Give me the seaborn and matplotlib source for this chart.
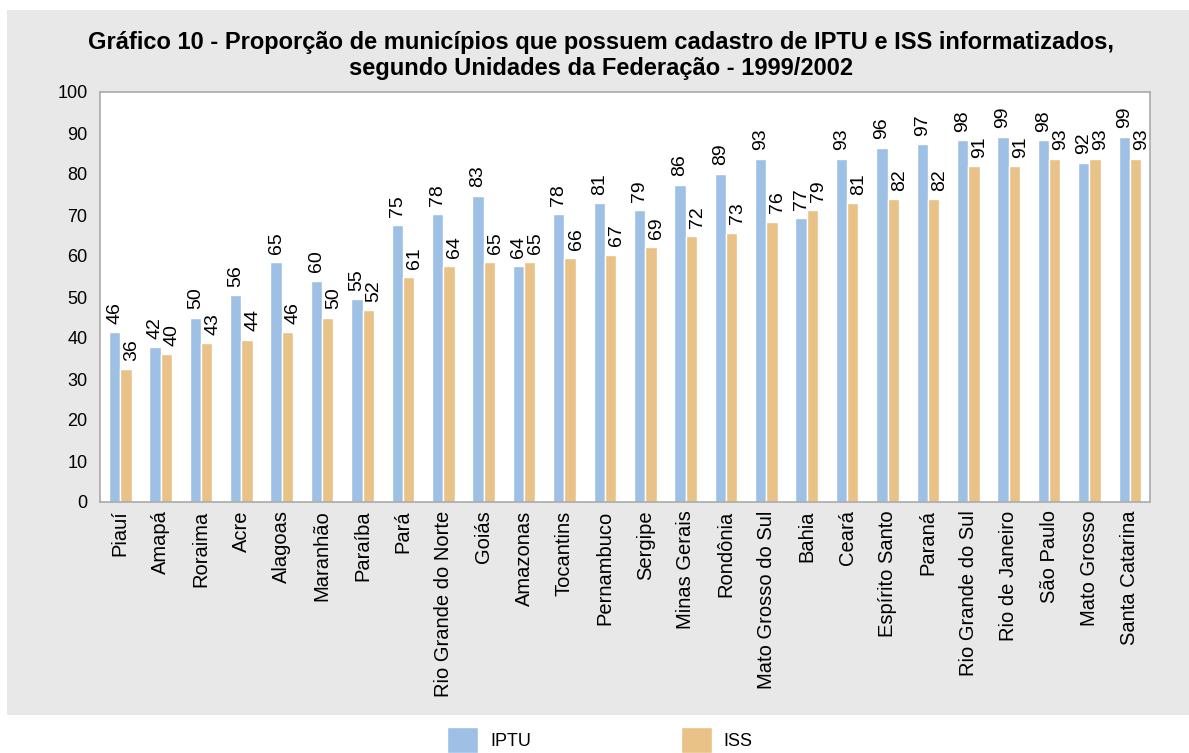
import numpy as np
import pandas as pd
import matplotlib
matplotlib.use("Agg")
import matplotlib.pyplot as plt
from matplotlib.patches import Rectangle
import seaborn as sns

estados = ["Piauí", "Amapá", "Roraima", "Acre", "Alagoas", "Maranhão", "Paraíba",
           "Pará", "Rio Grande do Norte", "Goiás", "Amazonas", "Tocantins",
           "Pernambuco", "Sergipe", "Minas Gerais", "Rondônia", "Mato Grosso do Sul",
           "Bahia", "Ceará", "Espírito Santo", "Paraná", "Rio Grande do Sul",
           "Rio de Janeiro", "São Paulo", "Mato Grosso", "Santa Catarina"]
iptu = [46, 42, 50, 56, 65, 60, 55, 75, 78, 83, 64, 78, 81, 79, 86, 89, 93,
        77, 93, 96, 97, 98, 99, 98, 92, 99]
iss = [36, 40, 43, 44, 46, 50, 52, 61, 64, 65, 65, 66, 67, 69, 72, 73, 76,
       79, 81, 82, 82, 91, 91, 93, 93, 93]
series = ["IPTU", "ISS"]
yticks = list(range(0, 101, 10))
title = ("Gráfico 10 - Proporção de municípios que possuem cadastro de IPTU e ISS informatizados,\n"
         "segundo Unidades da Federação - 1999/2002")

# the reference's value axis is drawn compressed (tick "100" sits at value ~111)
AXIS_FACTOR = 0.9

df = pd.DataFrame({
    "estado": estados * 2,
    "serie": [series[0]] * len(estados) + [series[1]] * len(estados),
    "valor": iptu + iss,
})

sns.set_style("white")
plt.rcParams["font.family"] = ["Liberation Sans", "DejaVu Sans"]
plt.rcParams["text.color"] = "black"
plt.rcParams["xtick.color"] = "black"
plt.rcParams["ytick.color"] = "black"

BLUE = "#9EC0E5"
ORANGE = "#E9C287"
SPINE = "#AAAAAA"

fig = plt.figure(figsize=(11.89, 7.53), dpi=100, facecolor="white")
W, H = 1189, 753
fig.patches.append(Rectangle((7 / W, 1 - 715 / H), 1 - 7 / W, (715 - 10) / H,
                             transform=fig.transFigure, facecolor="#E8E8E8",
                             edgecolor="none", zorder=-10))

ax = fig.add_axes([100 / W, 1 - 502 / H, (1150 - 100) / W, (502 - 92) / H])
ax.set_facecolor("white")
sns.barplot(data=df, x="estado", y="valor", hue="serie", order=estados,
            hue_order=series, palette=[BLUE, ORANGE], width=0.56,
            saturation=1, ax=ax, legend=True)

label_dx = [0, 4.3]  # ISS labels sit slightly right of their bars in the reference
for cont, vals, dx in zip(ax.containers, [iptu, iss], label_dx):
    anns = ax.bar_label(cont, labels=[str(v) for v in vals], rotation=90, padding=6,
                        fontsize=14, color="black")
    for a in anns:
        a.xyann = (dx, 6)

ax.set_ylim(0, 100 / AXIS_FACTOR)
ax.set_yticks([t / AXIS_FACTOR for t in yticks])
ax.set_yticklabels([str(t) for t in yticks], fontsize=13)
ax.set_xlim(-0.5, len(estados) - 0.5)
ax.set_xticks(range(len(estados)))
ax.set_xticklabels(estados, rotation=90, fontsize=14.5)
ax.set_xticks(np.arange(-0.5, len(estados), 1), minor=True)
ax.tick_params(axis="x", which="major", length=0, pad=6)
ax.tick_params(axis="x", which="minor", length=5, color=SPINE, width=1)
ax.tick_params(axis="y", length=5, color=SPINE, width=1, pad=4)
ax.set_xlabel("")
ax.set_ylabel("")
for s in ax.spines.values():
    s.set_visible(True)
    s.set_color(SPINE)
    s.set_linewidth(1.2)

handles, labels = ax.get_legend_handles_labels()
ax.get_legend().remove()
fig.legend(handles, labels, loc="upper center", bbox_to_anchor=(600 / W, 1 - 727 / H),
           ncol=2, frameon=False, fontsize=13, handlelength=1.72, handleheight=1.8,
           handletextpad=0.65, columnspacing=8.3, borderpad=0, borderaxespad=0)

fig.text(601 / W, 1 - 31 / H, title, ha="center", va="top", fontsize=17,
         fontweight="bold", linespacing=1.15, color="black")

fig.savefig("out.png", dpi=100, facecolor="white")
